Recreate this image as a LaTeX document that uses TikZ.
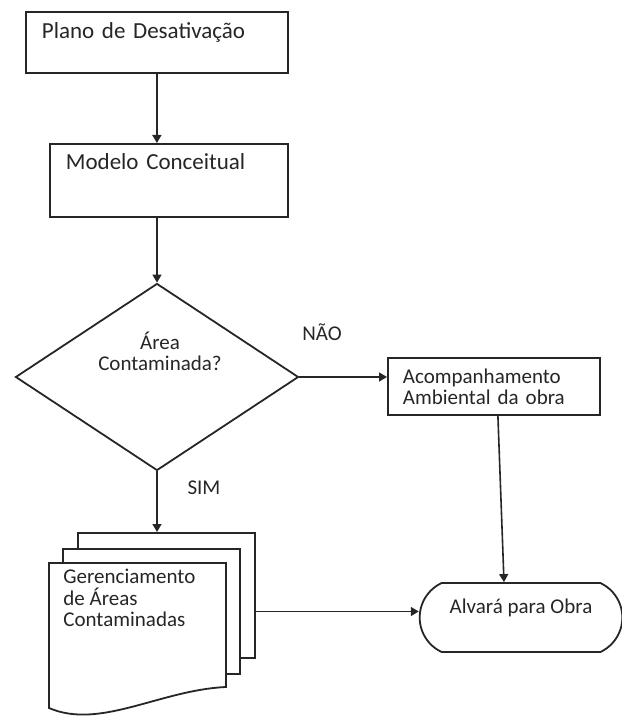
\documentclass[tikz,border=0pt]{standalone}
\usepackage{fontspec}
\setmainfont{Carlito}
\usetikzlibrary{arrows.meta, shapes.geometric, shapes.misc, positioning}
\tikzset{
  caixa/.style={
    rectangle, draw=black!85, line width=0.9pt, fill=white,
    align=left, inner xsep=8pt, inner ysep=0pt, anchor=north west
  },
  losango/.style={
    diamond, draw=black!85, line width=0.9pt, inner sep=0pt,
    minimum width=141.5pt, minimum height=93.5pt
  },
  pagina/.style={
    rectangle, draw=black!85, line width=0.9pt, fill=white, inner sep=0pt,
    minimum width=88.5pt, minimum height=62.5pt, anchor=north west
  },
  folha/.style={draw=black!85, line width=0.9pt, fill=white},
  terminal/.style={
    rounded rectangle, rounded rectangle arc length=130, draw=black!85,
    line width=0.9pt, minimum width=108pt, minimum height=34.5pt,
    text height=8pt, text depth=12.5pt
  },
  seta/.style={-{Triangle[length=4pt,width=4.5pt]}, line width=0.8pt, draw=black!85},
  rotulo/.style={inner sep=0pt},
  maior/.style={font=\fontsize{11.5}{12}\selectfont}
}

\begin{document}
\begin{tikzpicture}[
  x=0.5pt, y=-0.5pt,
  every node/.style={font=\fontsize{10.5}{10.6}\selectfont, text=black!85}
]
\useasboundingbox (0,0) rectangle (621,716);

% Etapas iniciais
\node[caixa, maior, text width=115pt, text height=13.4pt, text depth=17.1pt] (plano) at (25,11) {Plano de Desativação};
\node[caixa, maior, text width=103pt, text height=12.9pt, text depth=23.6pt] (modelo) at (49,143) {Modelo Conceitual};

% Decisao
\node[losango] (area) at (157,377) {};
\node[rotulo, align=center] (areatxt) at (160,351) {Área\\Contaminada?};

% Ramo NAO
\node[caixa, inner xsep=7.5pt, text width=91pt, minimum height=28.5pt] (acomp) at (387,357) {Acompanhamento\\Ambiental da obra};
\node[rotulo] (nao) at (322,332) {NÃO};

% Ramo SIM (documentos)
\node[pagina] (doc3) at (77,532) {};
\node[pagina] (doc2) at (62,548) {};
\draw[folha] (49,563) -- (226,563) -- (226,687) .. controls (160,690) and (100,730) .. (49,708) -- cycle;
\node[rotulo, anchor=north west, align=left] (doctxt) at (63,569) {Gerenciamento\\de Áreas\\Contaminadas};
\node[rotulo] (sim) at (204,488) {SIM};

% Fim
\node[terminal] (alvara) at (521,617.5) {Alvará para Obra};

% Setas
\draw[seta] (plano.south) -- (plano.south |- modelo.north);
\draw[seta] (area.north |- modelo.south) -- (area.north);
\draw[seta] (area.east) -- (area.east -| acomp.west);
\draw[seta] (area.south) -- (area.south |- doc3.north);
\draw[seta] ([xshift=2pt]acomp.south) -- ([xshift=-8.5pt]alvara.north);
\coordinate (entrada) at ([yshift=3pt]alvara.west);
\draw[seta] (entrada -| doc3.east) -- (entrada);

\end{tikzpicture}
\end{document}
